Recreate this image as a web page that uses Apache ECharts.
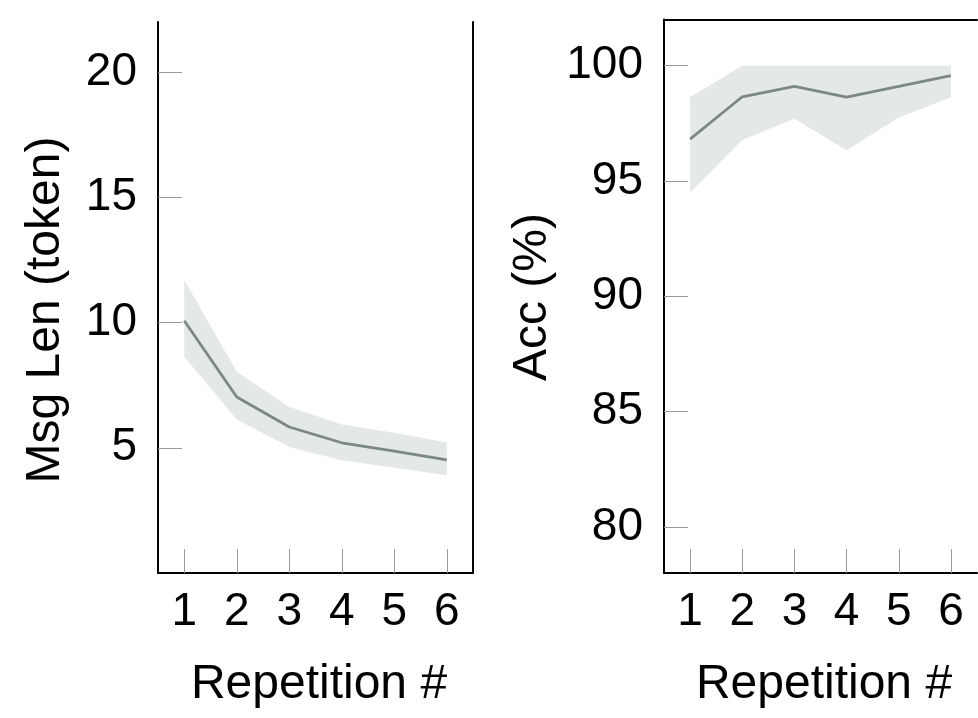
<!DOCTYPE html>
<html>
<head>
<meta charset="utf-8">
<script src="https://cdn.jsdelivr.net/npm/echarts@6/dist/echarts.min.js"></script>
<style>html,body{margin:0;padding:0;background:#fff;}#main{width:978px;height:718px;}</style>
</head>
<body>
<div id="main"></div>
<script>
var categories = ['1', '2', '3', '4', '5', '6'];
var lenMean  = [10.07, 7.03, 5.83, 5.2, 4.87, 4.52];
var lenLower = [8.63, 6.13, 5.03, 4.5, 4.2, 3.9];
var lenUpper = [11.7, 8.04, 6.63, 5.93, 5.6, 5.21];
var accMean  = [96.81, 98.65, 99.1, 98.63, 99.1, 99.57];
var accLower = [94.5, 96.78, 97.7, 96.33, 97.75, 98.63];
var accUpper = [98.63, 100, 100, 100, 100, 100];
var lenTicks = [5, 10, 15, 20];
var accTicks = [80, 85, 90, 95, 100];

var FONT = 'Liberation Sans, Arial, Helvetica, sans-serif';
var LINE = '#7b8885';
var BAND = '#e4e8e8';
var TICK = '#9a9a9a';

function diff(a, b) { return a.map(function (v, i) { return +(v - b[i]).toFixed(4); }); }

function xAxis(gi) {
  return {
    type: 'category', gridIndex: gi, data: categories, boundaryGap: true, position: 'bottom',
    axisLine: { show: true, lineStyle: { color: '#000', width: 2 } },
    axisTick: { show: true, inside: true, length: 24, alignWithLabel: true, lineStyle: { color: TICK, width: 1 } },
    axisLabel: { fontFamily: FONT, fontSize: 46, color: '#000', margin: 16 },
    splitLine: { show: false }
  };
}
function topAxis(gi) {
  return {
    type: 'category', gridIndex: gi, data: categories, boundaryGap: true, position: 'top',
    axisLine: { show: true, lineStyle: { color: '#000', width: 2 } },
    axisTick: { show: false }, axisLabel: { show: false }, splitLine: { show: false }
  };
}
function yAxis(gi, min, max, ticks, pos) {
  return {
    type: 'value', gridIndex: gi, min: min, max: max, position: pos || 'left',
    axisLine: { show: true, lineStyle: { color: '#000', width: 2 } },
    axisTick: { show: !pos, inside: true, length: 24, customValues: ticks, lineStyle: { color: TICK, width: 1 } },
    axisLabel: { show: !pos, fontFamily: FONT, fontSize: 46, color: '#000', margin: 21, customValues: ticks },
    splitLine: { show: false }
  };
}
function bandSeries(idx, lower, upper, stackName) {
  return [
    { type: 'line', xAxisIndex: idx, yAxisIndex: idx, data: lower, stack: stackName, symbol: 'none',
      lineStyle: { opacity: 0 }, silent: true, z: 1 },
    { type: 'line', xAxisIndex: idx, yAxisIndex: idx, data: diff(upper, lower), stack: stackName, symbol: 'none',
      lineStyle: { opacity: 0 }, areaStyle: { color: BAND, opacity: 1 }, silent: true, z: 1 }
  ];
}
function meanSeries(idx, data) {
  return { type: 'line', xAxisIndex: idx, yAxisIndex: idx, data: data, symbol: 'none',
    lineStyle: { color: LINE, width: 2.8 }, z: 3 };
}

var chart = echarts.init(document.getElementById('main'), null, { renderer: 'canvas' });
chart.setOption({
  animation: false,
  backgroundColor: '#fff',
  grid: [
    { left: 158, top: 22, width: 315, height: 551, show: false },
    { left: 664, top: 19.5, width: 313, height: 553.5, show: false }
  ],
  xAxis: [xAxis(0), xAxis(1), topAxis(0), topAxis(1)],
  yAxis: [yAxis(0, 0, 22, lenTicks), yAxis(1, 78, 102, accTicks), yAxis(0, 0, 22, lenTicks, 'right')],
  series: [].concat(
    bandSeries(0, lenLower, lenUpper, 'lenBand'),
    [meanSeries(0, lenMean)],
    bandSeries(1, accLower, accUpper, 'accBand'),
    [meanSeries(1, accMean)]
  ),
  graphic: [
    { type: 'text', x: 46, y: 310, rotation: Math.PI / 2,
      style: { text: 'Msg Len (token)', fontFamily: FONT, fontSize: 48, fill: '#000', textAlign: 'center', textVerticalAlign: 'middle' } },
    { type: 'text', x: 533, y: 297, rotation: Math.PI / 2,
      style: { text: 'Acc (%)', fontFamily: FONT, fontSize: 48, fill: '#000', textAlign: 'center', textVerticalAlign: 'middle' } },
    { type: 'text', x: 319, y: 685,
      style: { text: 'Repetition #', fontFamily: FONT, fontSize: 48, fill: '#000', textAlign: 'center', textVerticalAlign: 'middle' } },
    { type: 'text', x: 824, y: 685,
      style: { text: 'Repetition #', fontFamily: FONT, fontSize: 48, fill: '#000', textAlign: 'center', textVerticalAlign: 'middle' } }
  ]
});
</script>
</body>
</html>
